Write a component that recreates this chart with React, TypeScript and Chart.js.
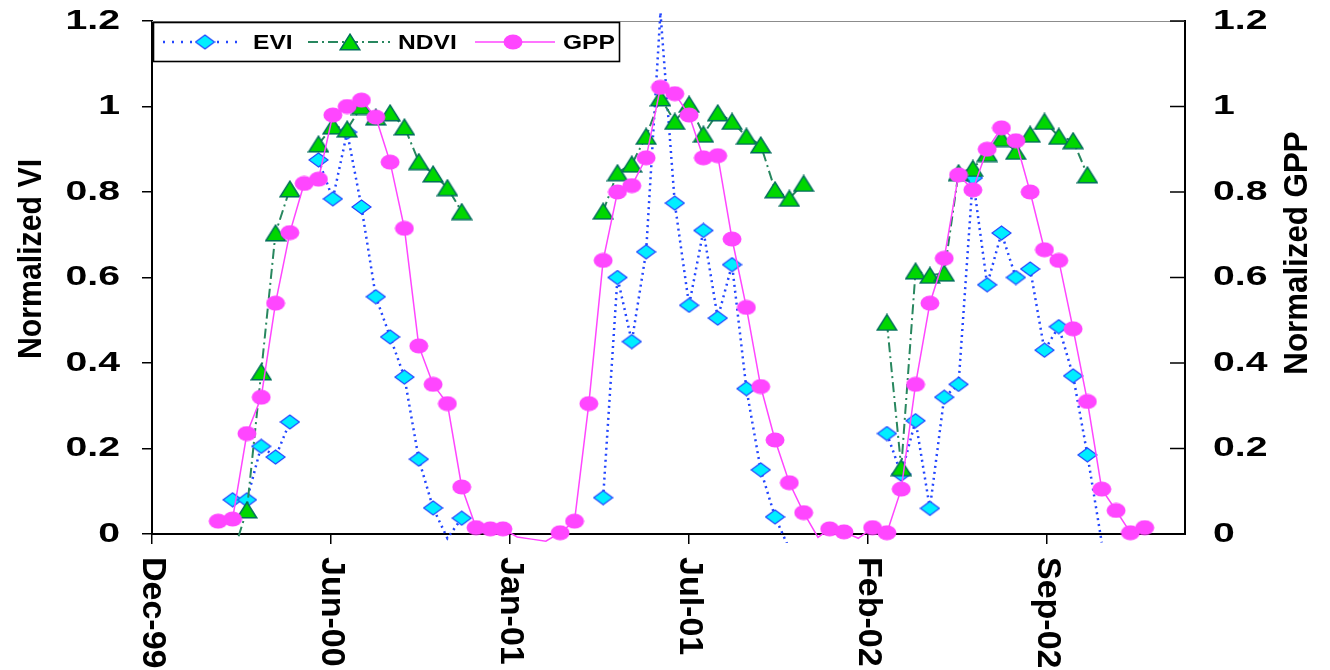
import React, { useEffect, useRef } from "react";
import { Chart, registerables } from "chart.js";

Chart.register(...registerables);

// ---------- axis definitions ----------
const AXIS_START = "1999-12-06";
const X_MAX_DAYS = 1154;
const X_TICK_STEP_DAYS = 200;
const xTickLabels = ["Dec-99", "Jun-00", "Jan-01", "Jul-01", "Feb-02", "Sep-02"];
const yTickValues = [0, 0.2, 0.4, 0.6, 0.8, 1, 1.2];
const yTickLabels = ["0", "0.2", "0.4", "0.6", "0.8", "1", "1.2"];
const Y_MIN = 0;
const Y_MAX = 1.2;

// ---------- GPP (16-day) ----------
const gppDates = [
  "2000-02-18", "2000-03-05", "2000-03-21", "2000-04-06", "2000-04-22", "2000-05-08", "2000-05-24",
  "2000-06-09", "2000-06-25", "2000-07-11", "2000-07-27", "2000-08-12", "2000-08-28", "2000-09-13",
  "2000-09-29", "2000-10-15", "2000-10-31", "2000-11-16", "2000-12-02", "2000-12-18",
  "2001-01-01", "2001-01-17", "2001-02-02", "2001-02-18", "2001-03-06", "2001-03-22", "2001-04-07",
  "2001-04-23", "2001-05-09", "2001-05-25", "2001-06-10", "2001-06-26", "2001-07-12", "2001-07-28",
  "2001-08-13", "2001-08-29", "2001-09-14", "2001-09-30", "2001-10-16", "2001-11-01", "2001-11-17",
  "2001-12-03", "2001-12-19",
  "2002-01-01", "2002-01-17", "2002-02-02", "2002-02-18", "2002-03-06", "2002-03-22", "2002-04-07",
  "2002-04-23", "2002-05-09", "2002-05-25", "2002-06-10", "2002-06-26", "2002-07-12", "2002-07-28",
  "2002-08-13", "2002-08-29", "2002-09-14", "2002-09-30", "2002-10-16", "2002-11-01", "2002-11-17",
  "2002-12-03", "2002-12-19",
];
const gppValues = [
  0.03, 0.035, 0.235, 0.32, 0.54, 0.705, 0.82, 0.83, 0.98, 1.0, 1.015, 0.975, 0.87, 0.715, 0.44, 0.35,
  0.305, 0.11, 0.015, 0.012,
  0.012, -0.007, -0.012, -0.017, 0.003, 0.03, 0.305, 0.64, 0.8, 0.815, 0.88, 1.045, 1.03, 0.98, 0.88,
  0.885, 0.69, 0.53, 0.345, 0.22, 0.12, 0.05, -0.008,
  0.012, 0.005, -0.01, 0.015, 0.003, 0.105, 0.35, 0.54, 0.645, 0.84, 0.805, 0.9, 0.95, 0.92, 0.8, 0.665,
  0.64, 0.48, 0.31, 0.105, 0.055, 0.003, 0.015,
];

// ---------- EVI / NDVI (16-day, per season) ----------
const viDates2000 = [
  "2000-03-05", "2000-03-21", "2000-04-06", "2000-04-22", "2000-05-08", "2000-05-24", "2000-06-09",
  "2000-06-25", "2000-07-11", "2000-07-27", "2000-08-12", "2000-08-28", "2000-09-13", "2000-09-29",
  "2000-10-15", "2000-10-31", "2000-11-16",
];
const evi2000 = [0.08, 0.08, 0.205, 0.18, 0.262, null, 0.875, 0.784, 0.94, 0.765, 0.555, 0.461, 0.367, 0.175, 0.061, -0.01, 0.037];
const ndvi2000 = [-0.05, 0.056, 0.379, 0.704, 0.807, null, 0.912, 0.954, 0.947, 1.0, 0.975, 0.985, 0.952, 0.871, 0.842, 0.81, 0.754];

const viDates2001 = [
  "2001-04-23", "2001-05-09", "2001-05-25", "2001-06-10", "2001-06-26", "2001-07-12", "2001-07-28",
  "2001-08-13", "2001-08-29", "2001-09-14", "2001-09-30", "2001-10-16", "2001-11-01", "2001-11-17",
  "2001-12-03",
];
const evi2001 = [0.085, 0.6, 0.45, 0.66, 1.22, 0.774, 0.535, 0.71, 0.505, 0.63, 0.34, 0.15, 0.04, -0.035, null];
const ndvi2001 = [0.755, 0.845, 0.865, 0.93, 1.02, 0.965, 1.005, 0.935, 0.985, 0.965, 0.93, 0.91, 0.805, 0.785, 0.82];

const viDates2002 = [
  "2002-03-06", "2002-03-22", "2002-04-07", "2002-04-23", "2002-05-09", "2002-05-25", "2002-06-10",
  "2002-06-26", "2002-07-12", "2002-07-28", "2002-08-13", "2002-08-29", "2002-09-14", "2002-09-30",
  "2002-10-16", "2002-11-01",
];
const evi2002 = [0.235, 0.14, 0.265, 0.06, 0.32, 0.35, 0.833, 0.583, 0.704, 0.6, 0.62, 0.43, 0.485, 0.37, 0.185, -0.02];
const ndvi2002 = [0.495, 0.155, 0.615, 0.605, 0.61, 0.845, 0.855, 0.89, 0.925, 0.895, 0.935, 0.965, 0.93, 0.92, 0.84, null];

// ---------- styles ----------
const BLUE_LINE = "rgb(35,70,255)";
const CYAN_FILL = "rgb(0,238,255)";
const GREEN_LINE = "rgb(40,135,95)";
const GREEN_FILL = "rgb(0,215,0)";
const GREEN_EDGE = "rgb(0,110,90)";
const PINK = "rgb(255,70,255)";
const TEXT_FONT = '"Liberation Sans", Arial, sans-serif';

function dayOffset(iso: string): number {
  const [y, m, d] = iso.split("-").map(Number);
  const [y0, m0, d0] = AXIS_START.split("-").map(Number);
  return (Date.UTC(y, m - 1, d) - Date.UTC(y0, m0 - 1, d0)) / 86400000;
}

type Pt = { x: number; y: number | null };

function seasonPoints(seasons: { dates: string[]; values: (number | null)[] }[]): Pt[] {
  const out: Pt[] = [];
  seasons.forEach((s, i) => {
    if (i > 0) out.push({ x: dayOffset(s.dates[0]) - 1, y: null });
    s.dates.forEach((d, j) => out.push({ x: dayOffset(d), y: s.values[j] }));
  });
  return out;
}

function makeDiamond(): HTMLCanvasElement {
  const w = 21, h = 16;
  const c = document.createElement("canvas");
  c.width = w; c.height = h;
  const g = c.getContext("2d")!;
  g.beginPath();
  g.moveTo(w / 2, 1); g.lineTo(w - 1, h / 2); g.lineTo(w / 2, h - 1); g.lineTo(1, h / 2); g.closePath();
  g.fillStyle = CYAN_FILL; g.fill();
  g.strokeStyle = BLUE_LINE; g.lineWidth = 1.2; g.stroke();
  return c;
}

function makeTriangle(): HTMLCanvasElement {
  const w = 22, h = 18;
  const c = document.createElement("canvas");
  c.width = w; c.height = h;
  const g = c.getContext("2d")!;
  g.beginPath();
  g.moveTo(w / 2, 1.2); g.lineTo(w - 1.2, h - 1.2); g.lineTo(1.2, h - 1.2); g.closePath();
  g.fillStyle = GREEN_FILL; g.fill();
  g.strokeStyle = GREEN_EDGE; g.lineWidth = 1.5; g.stroke();
  return c;
}

function makeBlob(): HTMLCanvasElement {
  const w = 20, h = 16;
  const c = document.createElement("canvas");
  c.width = w; c.height = h;
  const g = c.getContext("2d")!;
  g.beginPath();
  g.ellipse(w / 2, h / 2, w / 2 - 0.5, h / 2 - 0.5, 0, 0, Math.PI * 2);
  g.fillStyle = PINK; g.fill();
  return c;
}

function drawText(
  ctx: CanvasRenderingContext2D, text: string, x: number, y: number,
  font: string, align: CanvasTextAlign, sx: number, rot: number
) {
  ctx.save();
  ctx.translate(x, y);
  if (rot) ctx.rotate(rot);
  ctx.scale(sx, 1);
  ctx.font = font;
  ctx.textAlign = align;
  ctx.textBaseline = "middle";
  ctx.fillStyle = "#000";
  ctx.fillText(text, 0, 0);
  ctx.restore();
}

export default function App() {
  const ref = useRef<HTMLCanvasElement | null>(null);

  useEffect(() => {
    const canvas = ref.current;
    if (!canvas) return;
    const diamond = makeDiamond();
    const triangle = makeTriangle();
    const blob = makeBlob();

    const gppPoints: Pt[] = gppDates.map((d, i) => ({ x: dayOffset(d), y: gppValues[i] }));
    const eviPoints = seasonPoints([
      { dates: viDates2000, values: evi2000 },
      { dates: viDates2001, values: evi2001 },
      { dates: viDates2002, values: evi2002 },
    ]);
    const ndviPoints = seasonPoints([
      { dates: viDates2000, values: ndvi2000 },
      { dates: viDates2001, values: ndvi2001 },
      { dates: viDates2002, values: ndvi2002 },
    ]);

    const radiusFn = (c: any) => {
      const v = c.raw && c.raw.y;
      return v == null || v < Y_MIN || v > Y_MAX ? 0 : 8;
    };

    const framePlugin = {
      id: "frame",
      beforeDatasetsDraw(chart: any) {
        const { ctx, chartArea } = chart;
        ctx.save();
        ctx.strokeStyle = "#8c8c8c";
        ctx.lineWidth = 1.2;
        ctx.beginPath();
        ctx.moveTo(chartArea.left, chartArea.top + 0.5);
        ctx.lineTo(chartArea.right, chartArea.top + 0.5);
        ctx.stroke();
        // inward tick marks of the right axis
        const yr = chart.scales.y2;
        ctx.strokeStyle = "#000";
        ctx.lineWidth = 1.5;
        yTickValues.forEach((v) => {
          const py = yr.getPixelForValue(v);
          ctx.beginPath();
          ctx.moveTo(chartArea.right - 15, py);
          ctx.lineTo(chartArea.right, py);
          ctx.stroke();
        });
        ctx.restore();
      },
    };

    const textPlugin = {
      id: "texts",
      afterDraw(chart: any) {
        const { ctx, chartArea } = chart;
        const xs = chart.scales.x, yl = chart.scales.y, yr = chart.scales.y2;
        const tickFont = `bold 28px ${TEXT_FONT}`;
        yTickValues.forEach((v, i) => {
          drawText(ctx, yTickLabels[i], chartArea.left - 32, yl.getPixelForValue(v), tickFont, "right", 1.4, 0);
          drawText(ctx, yTickLabels[i], chartArea.right + 28, yr.getPixelForValue(v), tickFont, "left", 1.4, 0);
        });
        xTickLabels.forEach((lab, i) => {
          const px = xs.getPixelForValue(i * X_TICK_STEP_DAYS);
          drawText(ctx, lab, px, chartArea.bottom + 23, `bold 34px ${TEXT_FONT}`, "left", 1, Math.PI / 2);
        });
        drawText(ctx, "Normalized VI", 32, 259, `bold 34px ${TEXT_FONT}`, "center", 0.89, -Math.PI / 2);
        drawText(ctx, "Normalized GPP", 1298, 253, `bold 34px ${TEXT_FONT}`, "center", 0.92, -Math.PI / 2);

        // legend box
        const bx = chartArea.left + 1, by = chartArea.top + 1, bw = 467, bh = 40;
        const cy = by + bh / 2;
        ctx.save();
        ctx.fillStyle = "#fff";
        ctx.fillRect(bx, by, bw, bh);
        ctx.strokeStyle = "#000";
        ctx.lineWidth = 1.6;
        ctx.strokeRect(bx + 0.5, by + 0.5, bw - 1, bh - 1);
        const seg = (x1: number, x2: number, color: string, width: number, dash: number[]) => {
          ctx.save();
          ctx.strokeStyle = color; ctx.lineWidth = width; ctx.setLineDash(dash);
          ctx.beginPath(); ctx.moveTo(x1, cy); ctx.lineTo(x2, cy); ctx.stroke();
          ctx.restore();
        };
        seg(bx + 10, bx + 87, BLUE_LINE, 2.5, [2, 7]);
        ctx.drawImage(diamond, bx + 52 - diamond.width / 2, cy - diamond.height / 2);
        seg(bx + 155, bx + 237, GREEN_LINE, 2, [10, 4, 2, 4]);
        ctx.drawImage(triangle, bx + 197 - triangle.width / 2, cy - triangle.height / 2);
        seg(bx + 322, bx + 402, PINK, 1.5, []);
        ctx.drawImage(blob, bx + 360 - blob.width / 2, cy - blob.height / 2);
        ctx.restore();
        const lf = `bold 21px ${TEXT_FONT}`;
        drawText(ctx, "EVI", bx + 100, cy + 1, lf, "left", 1.17, 0);
        drawText(ctx, "NDVI", bx + 245, cy + 1, lf, "left", 1.17, 0);
        drawText(ctx, "GPP", bx + 410, cy + 1, lf, "left", 1.17, 0);
      },
    };

    const chart = new Chart(canvas, {
      type: "line",
      data: {
        datasets: [
          {
            label: "GPP",
            data: gppPoints as any,
            yAxisID: "y2",
            borderColor: PINK,
            backgroundColor: PINK,
            borderWidth: 1.5,
            pointStyle: blob as any,
            pointRadius: radiusFn as any,
            tension: 0,
            fill: false,
            order: 0,
            clip: { left: 0, right: 0, top: 0, bottom: 12 } as any,
          },
          {
            label: "NDVI",
            data: ndviPoints as any,
            yAxisID: "y",
            borderColor: GREEN_LINE,
            backgroundColor: GREEN_FILL,
            borderWidth: 2,
            borderDash: [10, 4, 2, 4],
            pointStyle: triangle as any,
            pointRadius: radiusFn as any,
            tension: 0,
            fill: false,
            order: 1,
            clip: { left: 0, right: 0, top: 0, bottom: 4 } as any,
          },
          {
            label: "EVI",
            data: eviPoints as any,
            yAxisID: "y",
            borderColor: BLUE_LINE,
            backgroundColor: CYAN_FILL,
            borderWidth: 2.5,
            borderDash: [2, 4],
            pointStyle: diamond as any,
            pointRadius: radiusFn as any,
            tension: 0,
            fill: false,
            order: 2,
            clip: { left: 0, right: 0, top: 12, bottom: 9 } as any,
          },
        ],
      },
      options: {
        animation: false,
        responsive: true,
        maintainAspectRatio: false,
        events: [],
        layout: { padding: { left: 142, right: 145, top: 21, bottom: 126 } },
        plugins: { legend: { display: false }, tooltip: { enabled: false } },
        scales: {
          x: {
            type: "linear",
            min: 0,
            max: X_MAX_DAYS,
            ticks: { display: false, stepSize: X_TICK_STEP_DAYS, includeBounds: false } as any,
            grid: { drawOnChartArea: false, drawTicks: true, tickLength: 10, color: "#000", lineWidth: 1.5 },
            border: { display: true, color: "#000", width: 2 },
          },
          y: {
            position: "left",
            min: Y_MIN,
            max: Y_MAX,
            ticks: { display: false, stepSize: 0.2 },
            grid: { drawOnChartArea: false, drawTicks: true, tickLength: 10, color: "#000", lineWidth: 1.5 },
            border: { display: true, color: "#000", width: 2 },
          },
          y2: {
            position: "right",
            min: Y_MIN,
            max: Y_MAX,
            ticks: { display: false, stepSize: 0.2 },
            grid: { drawOnChartArea: false, drawTicks: false },
            border: { display: true, color: "#000", width: 2 },
          },
        },
      },
      plugins: [framePlugin, textPlugin],
    });
    return () => chart.destroy();
  }, []);

  return (
    <div style={{ position: "absolute", left: 0, top: 0, width: 1330, height: 670, background: "#fff" }}>
      <canvas ref={ref} />
    </div>
  );
}
